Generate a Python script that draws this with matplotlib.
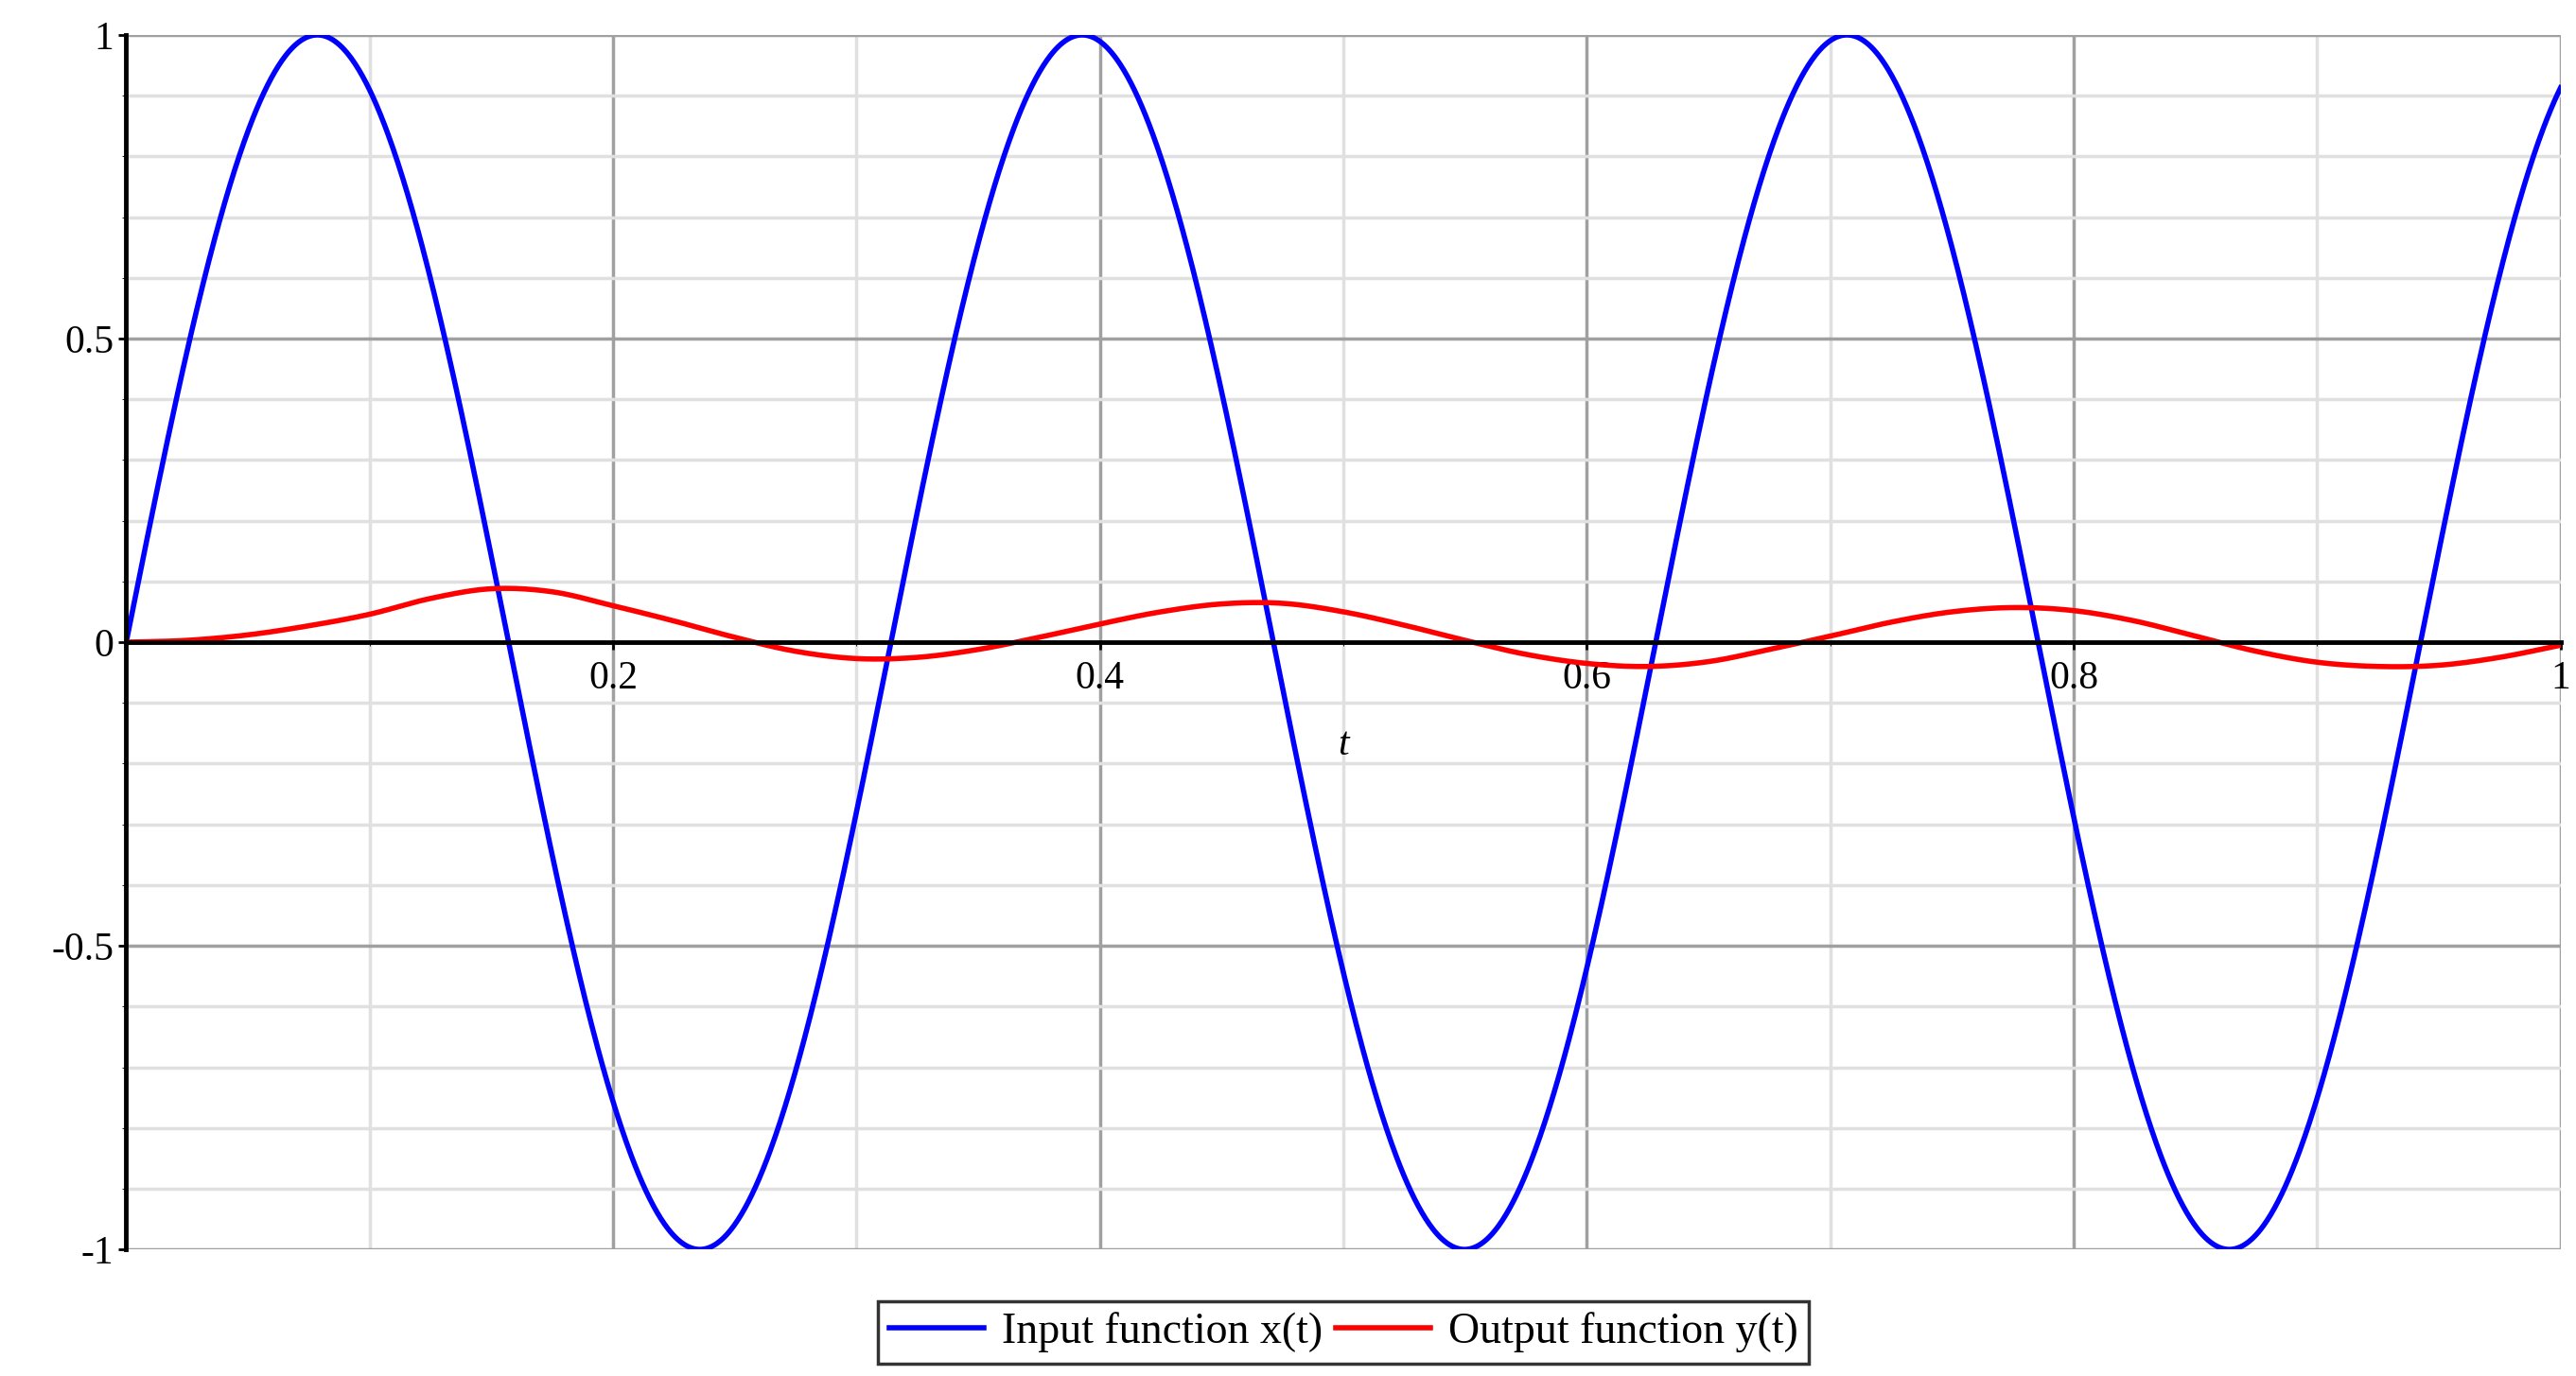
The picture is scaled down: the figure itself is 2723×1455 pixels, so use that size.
import numpy as np
import matplotlib
matplotlib.use("Agg")
import matplotlib.pyplot as plt
from matplotlib.ticker import MultipleLocator

omega = 20.0  # input x(t) = sin(omega t)
t_red = [0, .025, .05, .075, .1, .125, .15, .175, .2, .225, .25, .275, .3, .325, .35, .375, .4,
         .425, .45, .475, .5, .525, .55, .575, .6, .625, .65, .675, .7, .725, .75, .775, .8,
         .825, .85, .875, .9, .925, .95, .975, 1.0]
y_red = [0, .003, .012, .027, .046, .072, .088, .083, .06, .035, .008, -.015, -.027, -.025,
         -.012, .008, .03, .05, .063, .064, .05, .028, .003, -.02, -.035, -.04, -.032, -.012,
         .01, .033, .05, .057, .052, .035, .01, -.015, -.033, -.04, -.038, -.025, -.005]
xticks = [0.2, 0.4, 0.6, 0.8, 1.0]
xticklabels = ["0.2", "0.4", "0.6", "0.8", "1"]
yticks = [-1, -0.5, 0, 0.5, 1]
yticklabels = ["-1", "-0.5", "0", "0.5", "1"]


def catmull_rom(x, y, n=20):
    x = np.asarray(x, float); y = np.asarray(y, float)
    xp = np.concatenate([[2 * x[0] - x[1]], x, [2 * x[-1] - x[-2]]])
    yp = np.concatenate([[2 * y[0] - y[1]], y, [2 * y[-1] - y[-2]]])
    xs, ys = [], []
    for i in range(1, len(xp) - 2):
        s = np.linspace(0, 1, n, endpoint=False)
        for arr, out in ((xp, xs), (yp, ys)):
            p0, p1, p2, p3 = arr[i - 1], arr[i], arr[i + 1], arr[i + 2]
            out.append(0.5 * (2 * p1 + (-p0 + p2) * s + (2 * p0 - 5 * p1 + 4 * p2 - p3) * s ** 2
                              + (-p0 + 3 * p1 - 3 * p2 + p3) * s ** 3))
    return np.concatenate(xs + [[x[-1]]]), np.concatenate(ys + [[y[-1]]])


plt.rcParams['font.family'] = ['Liberation Serif', 'DejaVu Serif']
fig = plt.figure(figsize=(27.23, 14.55), dpi=100)
ax = fig.add_axes([0.049, 0.092, 0.945, 0.8826])

t = np.linspace(0, 1, 2000)
ax.plot(t, np.sin(omega * t), color='#0000ff', lw=4, label='Input function x(t)', zorder=3)
rx, ry = catmull_rom(t_red, y_red)
ax.plot(rx, ry, color='#ff0000', lw=4, label='Output function y(t)', zorder=3)

ax.set_xlim(0, 1)
ax.set_ylim(-1, 1)
ax.spines['top'].set_visible(False)
ax.spines['right'].set_visible(False)
ax.spines['bottom'].set_position(('data', 0))
for s in ('left', 'bottom'):
    ax.spines[s].set_linewidth(3.5)
    ax.spines[s].set_zorder(4)
ax.set_xticks(xticks)
ax.set_xticklabels(xticklabels)
ax.set_yticks(yticks)
ax.set_yticklabels(yticklabels)
ax.xaxis.set_minor_locator(MultipleLocator(0.1))
ax.yaxis.set_minor_locator(MultipleLocator(0.1))
ax.tick_params(axis='both', which='major', labelsize=30, length=6, width=2)
ax.tick_params(axis='both', which='minor', length=3)
ax.tick_params(axis='x', pad=8)
ax.grid(which='major', color='#a0a0a0', lw=2.5)
ax.grid(which='minor', color='#e0e0e0', lw=2.5)
ax.set_axisbelow(True)
ax.text(0.5, -0.17, 't', fontsize=30, style='italic', ha='center', va='center')

leg = ax.legend(loc='upper center', bbox_to_anchor=(0.5, -0.025), ncol=2, fontsize=33,
                frameon=True, fancybox=False, edgecolor='black', handlelength=2.2,
                columnspacing=0.3, handletextpad=0.4, borderpad=0.25)
leg.get_frame().set_linewidth(2.5)
fig.savefig('out.png', dpi=100)
